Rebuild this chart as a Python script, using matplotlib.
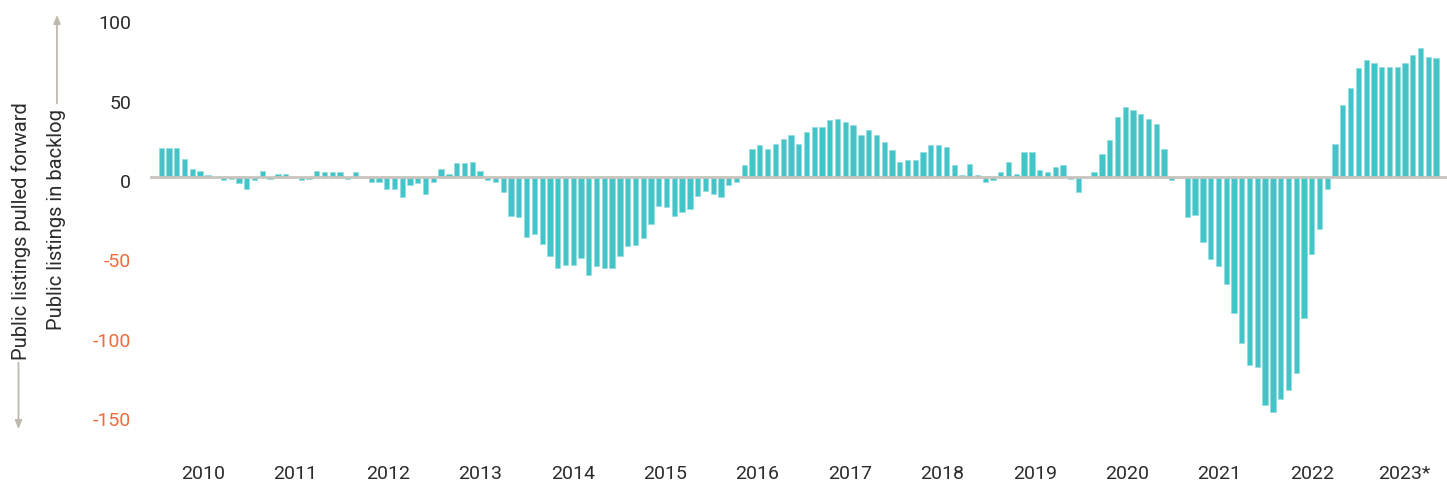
import numpy as np
import matplotlib
matplotlib.use("Agg")
from matplotlib import pyplot as plt
from matplotlib import transforms

plt.rcParams['font.family'] = ['Roboto', 'DejaVu Sans']

# monthly values, Jan 2010 .. Sep 2023
v2010 = [18, 18, 18, 11.5, 5, 4, 1, 0, -2, -1, -4, -7.5]
v2011 = [-2, 4, -1, 2, 2, 0, -2, -1, 4, 3, 3, 3]
v2012 = [-1, 3, 0, -3, -3, -7.5, -7.5, -12.5, -5, -4, -10.5, -3]
v2013 = [5, 2, 8.5, 8.5, 9.5, 4, -2, -3, -9.7, -24.4, -25.4, -38]
v2014 = [-36, -42, -49.6, -57.3, -55.2, -55.2, -51, -61.5, -56, -57.3, -57.3, -50]
v2015 = [-43.7, -42.6, -38.4, -29.6, -18, -19, -24.4, -22.3, -20, -11.8, -8.6, -10.7]
v2016 = [-12.6, -5.3, -3.2, 7.4, 17.9, 20, 17.9, 21, 24.2, 26.3, 21, 28.4]
v2017 = [31.5, 31.5, 35.7, 36.8, 34.7, 32.6, 26.3, 29.4, 26.3, 22, 16.8, 9.5]
v2018 = [10.5, 10.5, 15.8, 20, 20, 19, 7.4, 1, 8.4, 1, -3.2, -2.1]
v2019 = [3.2, 9.5, 2.1, 15.8, 15.8, 4.2, 3.2, 6.3, 7.4, -1, -9.5, 0]
v2020 = [3.2, 14.7, 23.1, 37.8, 44.1, 42, 39.9, 36.8, 33.6, 17.9, -2.1, 0]
v2021 = [-25.2, -24.2, -41, -51.9, -56.1, -67.6, -85.5, -104.8, -118.4, -119.5, -143.6, -147.8]
v2022 = [-139.7, -134.2, -123.7, -88.6, -48.3, -32.6, -7.4, 21, 45.4, 55.9, 68.5, 73.7]
v2023 = [71.6, 69.5, 69.5, 69.5, 71.6, 76.9, 81.1, 75.8, 74.8]

values = (v2010 + v2011 + v2012 + v2013 + v2014 + v2015 + v2016 + v2017
          + v2018 + v2019 + v2020 + v2021 + v2022 + v2023)

year_labels = ['2010', '2011', '2012', '2013', '2014', '2015', '2016',
               '2017', '2018', '2019', '2020', '2021', '2022', '2023*']
y_ticks = [100, 50, 0, -50, -100, -150]

W, H = 1447, 483
fs = 14
fig = plt.figure(figsize=(W / 100, H / 100), dpi=100)
ax = fig.add_axes([150 / W, 43 / H, 1297 / W, 440 / H])

x = np.arange(len(values))
ax.bar(x, values, width=0.68, color='#42C4C9', edgecolor='#8EDCDF', linewidth=0.4, zorder=2)
ax.axhline(0, color='#C8C3BC', lw=2, zorder=3)

ax.set_xlim(-1.45, 165.4)
ax.set_ylim(-165.7, 111.5)

# year labels sit roughly mid-year
tick_pos = [5.38 + 11.886 * k for k in range(len(year_labels))]
ax.set_xticks(tick_pos)
ax.set_xticklabels(year_labels, fontsize=fs, color='#2B2B2B')
ax.tick_params(axis='x', length=0, pad=18)

ax.set_yticks(y_ticks)
ax.set_yticklabels([str(t) for t in y_ticks], fontsize=fs)
ax.tick_params(axis='y', length=0, pad=13.5)
shift = transforms.ScaledTranslation(0, -4 / 100, fig.dpi_scale_trans)
for lab, t in zip(ax.get_yticklabels(), y_ticks):
    lab.set_color('#F26A3C' if t < 0 else '#2B2B2B')
    lab.set_transform(lab.get_transform() + shift)

for s in ax.spines.values():
    s.set_visible(False)

# side annotations with arrows
arrow_col = '#BDB9AF'
fig.text(57 / W, 1 - 220 / H, 'Public listings in backlog', rotation=90,
         ha='center', va='center', fontsize=14.5, color='#2B2B2B')
fig.text(21 / W, 1 - 231 / H, 'Public listings pulled forward', rotation=90,
         ha='center', va='center', fontsize=14.5, color='#2B2B2B')
ax.annotate('', xy=(57, H - 12), xytext=(57, H - 106), xycoords='figure pixels',
            textcoords='figure pixels',
            arrowprops=dict(arrowstyle='-|>,head_length=0.5,head_width=0.2', color=arrow_col, lw=1.3))
ax.annotate('', xy=(18.5, H - 432), xytext=(18.5, H - 360), xycoords='figure pixels',
            textcoords='figure pixels',
            arrowprops=dict(arrowstyle='-|>,head_length=0.5,head_width=0.2', color=arrow_col, lw=1.3))

fig.savefig('out.png', dpi=100)
